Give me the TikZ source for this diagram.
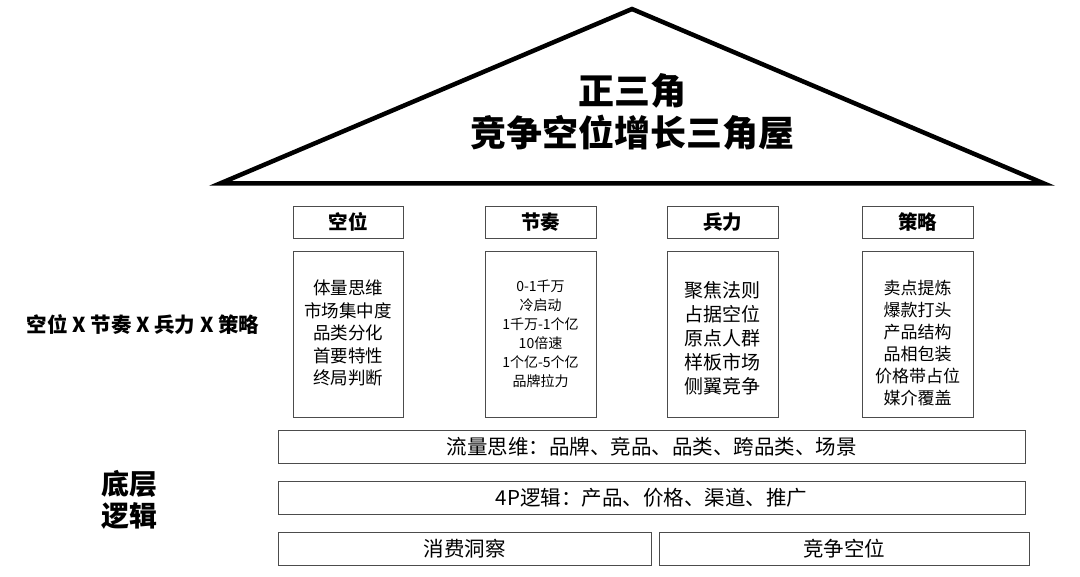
\documentclass[tikz,border=0pt]{standalone}
\usepackage{fontspec}
\setmainfont{Noto Sans CJK SC}
\newfontfamily\cjkbold{Noto Sans CJK SC Black}
\begin{document}
\begin{tikzpicture}[x=1pt,y=-1pt,
  box/.style={draw=black!70,line width=0.9pt,inner sep=0pt},
  hdr/.style={font=\fontsize{19.5}{22}\selectfont\bfseries},
  bar/.style={box,minimum height=33pt,font=\fontsize{20.5}{23}\selectfont},
  txt/.style={align=center}]
\useasboundingbox (0,0) rectangle (1080,577);
% roof
\coordinate (apex) at (632,9);
\coordinate (bl) at (220,183.5);
\coordinate (br) at (1044,183.5);
\draw[line width=4.5pt,line join=miter] (bl) -- (apex) -- (br) -- cycle;
\node[txt,font=\fontsize{36}{42}\selectfont\cjkbold] (title) at (632,112) {正三角\\竞争空位增长三角屋};
% headers
\node[box,minimum width=110pt,minimum height=32pt,hdr] (h1) at (348,222) {空位};
\node[box,minimum width=111pt,minimum height=32pt,hdr] (h2) at (540.5,222) {节奏};
\node[box,minimum width=111pt,minimum height=32pt,hdr] (h3) at (722.5,222) {兵力};
\node[box,minimum width=111pt,minimum height=32pt,hdr] (h4) at (917.5,222) {策略};
% content
\node[box,minimum width=110pt,minimum height=166pt] (c1) at (348,334) {};
\node[box,minimum width=111pt,minimum height=166pt] (c2) at (540.5,334) {};
\node[box,minimum width=111pt,minimum height=166pt] (c3) at (722.5,334) {};
\node[box,minimum width=111pt,minimum height=166pt] (c4) at (917.5,334) {};
\node[txt,font=\fontsize{17.5}{22.5}\selectfont] (t1) at (c1.center) [yshift=1pt] {体量思维\\市场集中度\\品类分化\\首要特性\\终局判断};
\node[txt,font=\fontsize{14}{19}\selectfont] (t2) at (c2.center) [yshift=0pt] {0-1千万\\冷启动\\1千万-1个亿\\10倍速\\1个亿-5个亿\\品牌拉力};
\node[txt,font=\fontsize{19}{24}\selectfont] (t3) at (c3.center) [yshift=-4pt] {聚焦法则\\占据空位\\原点人群\\样板市场\\侧翼竞争};
\node[txt,font=\fontsize{17}{22}\selectfont] (t4) at (c4.center) [yshift=-9pt] {卖点提炼\\爆款打头\\产品结构\\品相包装\\价格带占位\\媒介覆盖};
% left labels
\node[font=\fontsize{20.5}{23}\selectfont\bfseries] (lab1) at (143,325) {空位 X 节奏 X 兵力 X 策略};
\node[txt,font=\fontsize{28}{32}\selectfont\bfseries] (lab2) at (129,500) {底层\\逻辑};
% bars
\node[bar,minimum width=747pt] (b1) at (651.5,446.5) {流量思维：品牌、竞品、品类、跨品类、场景};
\node[bar,minimum width=747pt] (b2) at (651.5,497.5) {4P逻辑：产品、价格、渠道、推广};
\node[bar,minimum width=373pt] (b3) at (464.5,548.5) {消费洞察};
\node[bar,minimum width=370pt] (b4) at (844,548.5) {竞争空位};
\end{tikzpicture}
\end{document}
